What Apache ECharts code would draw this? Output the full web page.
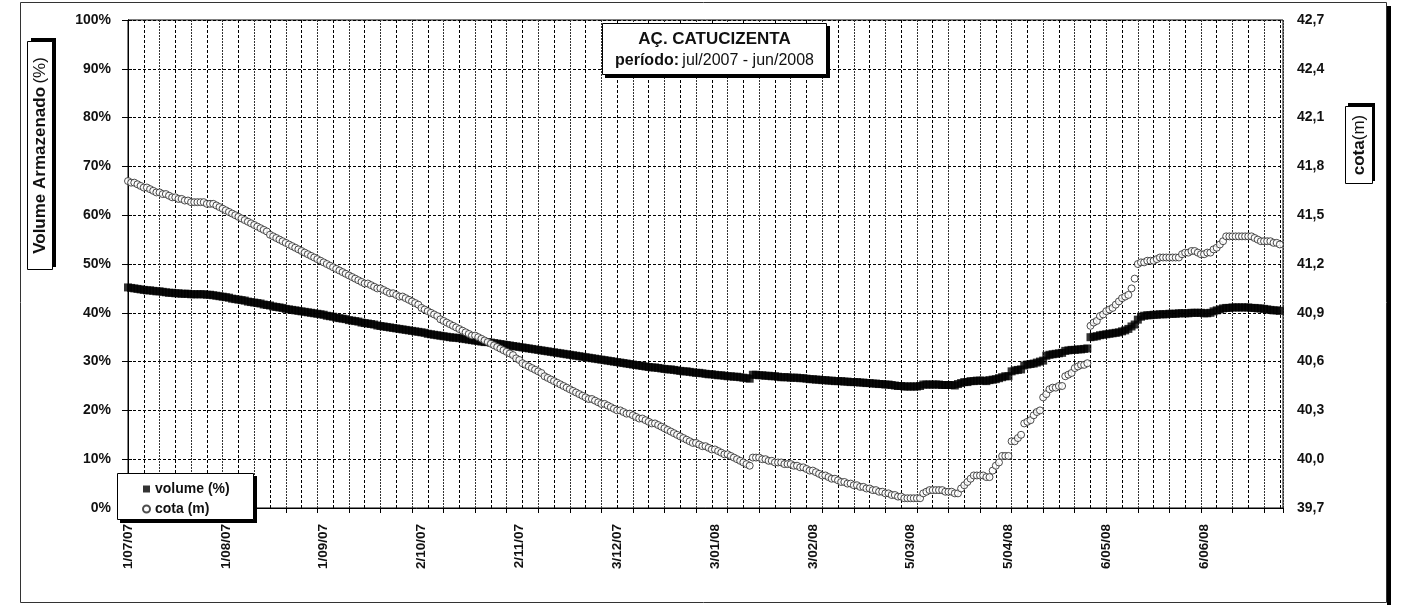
<!DOCTYPE html>
<html>
<head>
<meta charset="utf-8">
<title>AÇ. CATUCIZENTA</title>
<script src="https://cdn.jsdelivr.net/npm/echarts@6/dist/echarts.min.js"></script>
<style>
  html, body { margin: 0; padding: 0; background: #fff; }
  #chart { width: 1410px; height: 605px; }
</style>
</head>
<body>
<div id="chart"></div>
<script>
(function () {

  'use strict';

  // x axis: day number counted from 1/07/07, labels every 31 days
  var dateLabels = ['1/07/07', '1/08/07', '1/09/07', '2/10/07', '2/11/07', '3/12/07',
    '3/01/08', '3/02/08', '5/03/08', '5/04/08', '6/05/08', '6/06/08'];
  var labelDays = [0, 31, 62, 93, 124, 155, 186, 217, 248, 279, 310, 341];
  var cotaTicks = [39.7, 40.0, 40.3, 40.6, 40.9, 41.2, 41.5, 41.8, 42.1, 42.4, 42.7];

  // volume armazenado (%), one value per day, jul/2007 - jun/2008
  var volume = [
    // jul
    45.2, 45.1, 45.0, 44.9, 44.8, 44.7, 44.6, 44.6, 44.5, 44.4, 44.4, 44.3, 44.2, 44.1, 44.1, 44.0,
    44.0, 43.9, 43.9, 43.9, 43.8, 43.8, 43.8, 43.8, 43.8, 43.7, 43.7, 43.6, 43.5, 43.4, 43.3,
    // aug
    43.2, 43.1, 42.9, 42.8, 42.7, 42.6, 42.5, 42.3, 42.2, 42.1, 42.0, 41.9, 41.7, 41.6, 41.5, 41.3,
    41.2, 41.1, 41.0, 40.8, 40.7, 40.6, 40.5, 40.4, 40.3, 40.2, 40.1, 40.0, 39.9, 39.8, 39.7,
    // sep
    39.6, 39.4, 39.3, 39.2, 39.0, 38.9, 38.8, 38.7, 38.5, 38.4, 38.3, 38.2, 38.0, 37.9, 37.8,
    37.7, 37.6, 37.4, 37.3, 37.2, 37.1, 37.0, 36.9, 36.8, 36.7, 36.6, 36.5, 36.4, 36.3, 36.2,
    // oct
    36.1, 36.0, 35.9, 35.7, 35.6, 35.5, 35.4, 35.3, 35.2, 35.1, 35.0, 34.9, 34.9, 34.8, 34.7, 34.6,
    34.5, 34.4, 34.3, 34.2, 34.1, 34.0, 34.0, 33.9, 33.8, 33.7, 33.6, 33.5, 33.4, 33.3, 33.2,
    // nov
    33.1, 33.0, 32.9, 32.8, 32.7, 32.6, 32.5, 32.4, 32.3, 32.2, 32.1, 32.0, 31.9, 31.8, 31.7,
    31.6, 31.5, 31.4, 31.3, 31.2, 31.1, 31.0, 30.9, 30.8, 30.7, 30.6, 30.5, 30.4, 30.3, 30.2,
    // dec
    30.1, 30.0, 29.9, 29.8, 29.7, 29.6, 29.5, 29.4, 29.3, 29.2, 29.1, 29.0, 28.9, 28.8, 28.8, 28.7,
    28.6, 28.5, 28.4, 28.4, 28.3, 28.2, 28.1, 28.0, 28.0, 27.9, 27.8, 27.7, 27.7, 27.6, 27.5,
    // jan
    27.4, 27.4, 27.3, 27.2, 27.2, 27.1, 27.0, 27.0, 26.9, 26.9, 26.8, 26.7, 26.6, 26.5, 27.3, 27.3,
    27.2, 27.2, 27.1, 27.1, 27.0, 27.0, 26.9, 26.8, 26.8, 26.8, 26.7, 26.7, 26.7, 26.6, 26.6,
    // feb
    26.5, 26.4, 26.4, 26.3, 26.3, 26.2, 26.2, 26.1, 26.1, 26.0, 26.0, 26.0, 25.9, 25.9, 25.8,
    25.8, 25.8, 25.7, 25.7, 25.6, 25.6, 25.5, 25.5, 25.4, 25.4, 25.3, 25.3, 25.2, 25.1,
    // mar
    25.0, 25.0, 24.9, 24.9, 24.9, 24.9, 24.9, 25.0, 25.3, 25.3, 25.3, 25.3, 25.3, 25.3, 25.2, 25.2,
    25.2, 25.2, 25.1, 25.4, 25.6, 25.8, 25.8, 26.0, 26.0, 26.1, 26.1, 26.1, 26.0, 26.2, 26.3,
    // apr
    26.4, 26.6, 26.8, 27.0, 27.0, 28.0, 28.2, 28.3, 28.4, 29.2, 29.4, 29.5, 29.6, 29.8, 30.0,
    30.2, 31.2, 31.4, 31.5, 31.6, 31.7, 31.8, 32.2, 32.3, 32.4, 32.4, 32.5, 32.5, 32.6, 32.7,
    // may
    35.0, 35.1, 35.2, 35.4, 35.5, 35.6, 35.7, 35.8, 35.9, 36.0, 36.2, 36.4, 36.7, 37.2, 37.6, 38.6,
    39.2, 39.4, 39.5, 39.5, 39.6, 39.6, 39.7, 39.7, 39.7, 39.8, 39.8, 39.8, 39.9, 39.9, 39.9,
    // jun
    39.9, 40.0, 40.0, 40.0, 40.0, 39.9, 39.9, 40.0, 40.3, 40.5, 40.7, 40.9, 41.0, 41.0, 41.1,
    41.1, 41.1, 41.1, 41.1, 41.1, 41.0, 41.0, 40.9, 40.9, 40.8, 40.7, 40.6, 40.5, 40.5, 40.4
  ];

  // cota (m), one value per day
  var cota = [
    // jul
    41.71, 41.70, 41.70, 41.69, 41.68, 41.67, 41.67, 41.66, 41.65, 41.64, 41.64, 41.63, 41.63, 41.62,
    41.61, 41.61, 41.60, 41.60, 41.59, 41.59, 41.58, 41.58, 41.58, 41.58, 41.58, 41.57, 41.57, 41.57,
    41.56, 41.55, 41.54,
    // aug
    41.53, 41.52, 41.51, 41.50, 41.49, 41.48, 41.47, 41.46, 41.45, 41.44, 41.43, 41.42, 41.41, 41.40,
    41.38, 41.37, 41.36, 41.35, 41.34, 41.33, 41.32, 41.31, 41.30, 41.29, 41.28, 41.27, 41.26, 41.25,
    41.24, 41.23, 41.22,
    // sep
    41.21, 41.20, 41.19, 41.18, 41.17, 41.16, 41.15, 41.14, 41.13, 41.12, 41.11, 41.10, 41.09, 41.08,
    41.08, 41.07, 41.06, 41.05, 41.05, 41.04, 41.03, 41.02, 41.02, 41.01, 41.00, 41.00, 40.99, 40.98,
    40.97, 40.96,
    // oct
    40.95, 40.93, 40.92, 40.91, 40.90, 40.89, 40.88, 40.86, 40.85, 40.84, 40.83, 40.82, 40.81, 40.80,
    40.79, 40.78, 40.77, 40.76, 40.76, 40.75, 40.74, 40.73, 40.72, 40.71, 40.70, 40.69, 40.68, 40.67,
    40.66, 40.65, 40.64,
    // nov
    40.62, 40.61, 40.59, 40.58, 40.57, 40.56, 40.55, 40.54, 40.53, 40.51, 40.50, 40.49, 40.48, 40.47,
    40.46, 40.45, 40.44, 40.43, 40.42, 40.41, 40.40, 40.39, 40.38, 40.37, 40.37, 40.36, 40.35, 40.34,
    40.34, 40.33,
    // dec
    40.32, 40.31, 40.30, 40.30, 40.29, 40.28, 40.28, 40.27, 40.26, 40.25, 40.25, 40.24, 40.23, 40.22,
    40.22, 40.21, 40.20, 40.19, 40.18, 40.17, 40.16, 40.15, 40.14, 40.13, 40.12, 40.11, 40.10, 40.10,
    40.09, 40.08, 40.08,
    // jan
    40.07, 40.06, 40.06, 40.05, 40.04, 40.03, 40.03, 40.02, 40.01, 40.00, 39.99, 39.98, 39.97, 39.96,
    40.01, 40.01, 40.01, 40.00, 40.00, 39.99, 39.99, 39.98, 39.98, 39.98, 39.97, 39.97, 39.97, 39.96,
    39.96, 39.95, 39.95,
    // feb
    39.94, 39.93, 39.93, 39.92, 39.91, 39.90, 39.90, 39.89, 39.88, 39.88, 39.87, 39.86, 39.86, 39.85,
    39.85, 39.84, 39.84, 39.83, 39.83, 39.82, 39.82, 39.81, 39.81, 39.80, 39.80, 39.79, 39.79, 39.78,
    39.78,
    // mar
    39.77, 39.77, 39.76, 39.76, 39.76, 39.76, 39.76, 39.76, 39.79, 39.80, 39.81, 39.81, 39.81, 39.81,
    39.81, 39.80, 39.80, 39.80, 39.79, 39.79, 39.82, 39.84, 39.86, 39.88, 39.90, 39.90, 39.90, 39.90,
    39.89, 39.89, 39.93,
    // apr
    39.96, 39.98, 40.02, 40.02, 40.02, 40.11, 40.11, 40.13, 40.15, 40.22, 40.23, 40.24, 40.27, 40.29,
    40.30, 40.38, 40.40, 40.43, 40.44, 40.44, 40.45, 40.45, 40.51, 40.52, 40.53, 40.56, 40.57, 40.58,
    40.58, 40.59,
    // may
    40.82, 40.84, 40.85, 40.88, 40.89, 40.91, 40.92, 40.93, 40.95, 40.97, 40.99, 41.00, 41.01, 41.05,
    41.11, 41.20, 41.21, 41.21, 41.22, 41.22, 41.22, 41.23, 41.24, 41.24, 41.24, 41.24, 41.24, 41.24,
    41.24, 41.26, 41.27,
    // jun
    41.27, 41.28, 41.28, 41.27, 41.26, 41.26, 41.27, 41.27, 41.29, 41.30, 41.32, 41.34, 41.37, 41.37,
    41.37, 41.37, 41.37, 41.37, 41.37, 41.37, 41.37, 41.36, 41.35, 41.34, 41.34, 41.34, 41.34, 41.33,
    41.33, 41.32
  ];

  var FONT = "'Liberation Sans', Arial, sans-serif";

  var volumeData = volume.map(function (v, i) { return [i, v]; });
  var cotaData = cota.map(function (v, i) { return [i, v]; });

  var chart = echarts.init(document.getElementById('chart'), null, { renderer: 'canvas' });

  var option = {
    animation: false,
    backgroundColor: '#fff',
    textStyle: { fontFamily: FONT },
    grid: {
      left: 128, right: 127, top: 20, bottom: 97,
      show: true, borderColor: '#000', borderWidth: 1
    },
    legend: {
      data: ['volume (%)', 'cota (m)'],
      orient: 'vertical',
      left: 137, top: 477,
      itemWidth: 7, itemHeight: 7, itemGap: 6,
      z: 110,
      textStyle: { fontFamily: FONT, fontWeight: 'bold', fontSize: 14, color: '#111' }
    },
    xAxis: [{
      type: 'value',
      min: 0, max: 366, interval: 31,
      position: 'bottom',
      axisLine: { show: true, lineStyle: { color: '#000', width: 1 } },
      axisTick: { show: false },
      splitLine: { show: false },
      axisLabel: {
        rotate: 90, margin: 16, showMaxLabel: false,
        fontFamily: FONT, fontWeight: 'bold', fontSize: 13.5, color: '#111',
        formatter: function (v) {
          var i = labelDays.indexOf(v);
          return i < 0 ? '' : dateLabels[i];
        }
      }
    }, {
      // tick marks every 10 days and the vertical grid
      type: 'value',
      min: 0, max: 366, interval: 10,
      position: 'bottom',
      axisLine: { show: false },
      axisLabel: { show: false },
      axisTick: { show: true, inside: false, length: 5, lineStyle: { color: '#000' } },
      splitLine: { show: true, lineStyle: { color: '#333', type: [2, 1], width: 1 } },
      minorTick: { show: false, splitNumber: 2 },
      minorSplitLine: { show: true, lineStyle: { color: '#000', type: [3, 2], width: 1 } }
    }],
    yAxis: [{
      type: 'value',
      min: 0, max: 100, interval: 10,
      position: 'left',
      axisLine: { show: true, lineStyle: { color: '#000', width: 1 } },
      axisTick: { show: true, length: 6, lineStyle: { color: '#000' } },
      splitLine: { show: true, lineStyle: { color: '#000', type: [3, 2], width: 1 } },
      axisLabel: {
        margin: 17, fontFamily: FONT, fontWeight: 'bold', fontSize: 14, color: '#111',
        formatter: '{value}%'
      }
    }, {
      type: 'value',
      min: 39.7, max: 42.7,
      position: 'right',
      axisLine: { show: true, lineStyle: { color: '#000', width: 1 } },
      axisTick: { show: true, length: 4, customValues: cotaTicks, lineStyle: { color: '#000' } },
      splitLine: { show: false },
      axisLabel: {
        margin: 14, fontFamily: FONT, fontWeight: 'bold', fontSize: 14, color: '#111',
        customValues: cotaTicks,
        formatter: function (v) { return v.toFixed(1).replace('.', ','); }
      }
    }],
    series: [{
      name: 'volume (%)',
      type: 'scatter',
      xAxisIndex: 0, yAxisIndex: 0,
      symbol: 'rect', symbolSize: 8,
      itemStyle: { color: '#000' },
      data: volumeData
    }, {
      name: 'cota (m)',
      type: 'scatter',
      xAxisIndex: 0, yAxisIndex: 1,
      symbol: 'circle', symbolSize: 7,
      itemStyle: { color: '#fff', borderColor: '#222', borderWidth: 1 },
      data: cotaData
    }],
    graphic: [
      // outer frame with shadow on the right
      { type: 'rect', z: 100, shape: { x: 1387, y: 6, width: 4, height: 599 }, style: { fill: '#000' } },
      { type: 'rect', z: 100, shape: { x: 20.5, y: 2.5, width: 1366, height: 600 },
        style: { fill: null, stroke: '#333', lineWidth: 1 } },

      // title box
      { type: 'rect', z: 100, shape: { x: 605, y: 26, width: 225, height: 52 }, style: { fill: '#000' } },
      { type: 'rect', z: 100, shape: { x: 602.5, y: 23.5, width: 224, height: 51 },
        style: { fill: '#fff', stroke: '#000', lineWidth: 1 } },
      { type: 'text', z: 101, x: 714.5, y: 39,
        style: { text: 'AÇ. CATUCIZENTA', align: 'center', verticalAlign: 'middle',
          font: 'bold 17px ' + FONT, fill: '#111' } },
      { type: 'text', z: 101, x: 714.5, y: 61,
        style: { text: '{b|período:} {n|jul/2007 - jun/2008}', align: 'center', verticalAlign: 'middle',
          rich: {
            b: { fontFamily: FONT, fontWeight: 'bold', fontSize: 16, fill: '#111' },
            n: { fontFamily: FONT, fontSize: 16, fill: '#111' }
          } } },

      // left axis name
      { type: 'rect', z: 100, shape: { x: 31, y: 38, width: 25, height: 229 }, style: { fill: '#000' } },
      { type: 'rect', z: 100, shape: { x: 27.5, y: 41.5, width: 25, height: 228 },
        style: { fill: '#fff', stroke: '#000', lineWidth: 1 } },
      { type: 'text', z: 101, x: 40.5, y: 155.5, rotation: Math.PI / 2,
        style: { text: '{b|Volume Armazenado} {n|(%)}', align: 'center', verticalAlign: 'middle',
          rich: {
            b: { fontFamily: FONT, fontWeight: 'bold', fontSize: 17, fill: '#111' },
            n: { fontFamily: FONT, fontSize: 17, fill: '#111' }
          } } },

      // right axis name
      { type: 'rect', z: 100, shape: { x: 1348, y: 103, width: 27, height: 78 }, style: { fill: '#000' } },
      { type: 'rect', z: 100, shape: { x: 1345.5, y: 106.5, width: 27, height: 77 },
        style: { fill: '#fff', stroke: '#000', lineWidth: 1 } },
      { type: 'text', z: 101, x: 1359.5, y: 145, rotation: Math.PI / 2,
        style: { text: '{b|cota}{n|(m)}', align: 'center', verticalAlign: 'middle',
          rich: {
            b: { fontFamily: FONT, fontWeight: 'bold', fontSize: 17, fill: '#111' },
            n: { fontFamily: FONT, fontSize: 17, fill: '#111' }
          } } },

      // legend box
      { type: 'rect', z: 100, shape: { x: 120, y: 476, width: 137, height: 47 }, style: { fill: '#000' } },
      { type: 'rect', z: 100, shape: { x: 117.5, y: 473.5, width: 136, height: 46 },
        style: { fill: '#fff', stroke: '#000', lineWidth: 1 } }
    ]
  };

  chart.setOption(option);

})();
</script>
</body>
</html>
